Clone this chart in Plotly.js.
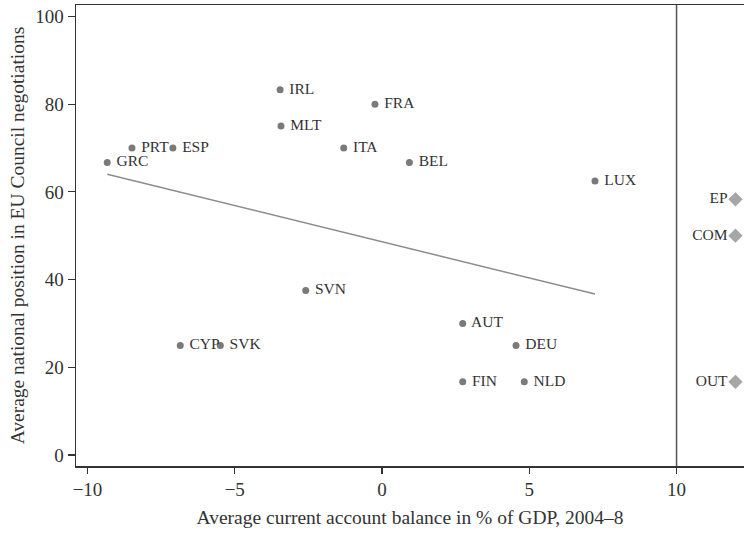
<!DOCTYPE html>
<html>
<head>
<meta charset="utf-8">
<script src="https://cdn.plot.ly/plotly-3.0.1.min.js"></script>
<style>html,body{margin:0;padding:0;background:#fff}#chart{width:744px;height:535px}</style>
</head>
<body>
<div id="chart"></div>
<script>
// Countries: current account balance (% GDP, 2004-8) and average national position
const countries = ["GRC","PRT","ESP","IRL","MLT","ITA","FRA","BEL","LUX","SVN","CYP","SVK","AUT","DEU","FIN","NLD"];
const balance   = [-9.33, -8.49, -7.10, -3.46, -3.43, -1.30, -0.24, 0.93, 7.23, -2.59, -6.85, -5.49, 2.74, 4.55, 2.74, 4.83];
const position  = [66.7, 70, 70, 83.3, 75, 70, 80, 66.7, 62.5, 37.5, 25, 25, 30, 25, 16.7, 16.7];

// EU institutions / outcome shown at the right
const actors      = ["EP","COM","OUT"];
const actorX      = [12, 12, 12];
const actorY      = [58.3, 50, 16.7];

// Fitted line endpoints
const fitX = [-9.33, 7.23];
const fitY = [64.0, 36.7];

const xTicks = [-10, -5, 0, 5, 10];
const xTickText = ["\u221210", "\u22125", "0", "5", "10"];
const yTicks = [0, 20, 40, 60, 80, 100];

const font = "Liberation Serif, Times New Roman, serif";

const traces = [
  {x: fitX, y: fitY, mode: "lines", line: {color: "#8c8c8c", width: 1.5}, hoverinfo: "skip"},
  {x: balance, y: position, mode: "markers+text", text: countries, texttemplate: " %{text}", textposition: "middle right",
   marker: {color: "#7a7a7a", size: 7}, textfont: {family: font, size: 15.5, color: "#333"}, cliponaxis: false},
  {x: actorX, y: actorY, mode: "markers+text", text: actors, textposition: "middle left",
   marker: {color: "#a6a6a6", size: 11, symbol: "diamond"}, textfont: {family: font, size: 15.5, color: "#333"}, cliponaxis: false}
];

const layout = {
  width: 744, height: 535,
  margin: {l: 76, r: 0, t: 5, b: 69},
  showlegend: false,
  paper_bgcolor: "#fff", plot_bgcolor: "#fff",
  font: {family: font, color: "#333", size: 19},
  xaxis: {
    range: [-10.39, 12.29], showgrid: false, zeroline: false,
    tickvals: xTicks, ticktext: xTickText, ticks: "outside", ticklen: 6, tickcolor: "#333", tickwidth: 1.2,
    showline: true, linecolor: "#333", linewidth: 1.5, mirror: true,
    tickfont: {family: font, size: 19, color: "#333"},
    title: {text: "Average current account balance in % of GDP, 2004\u20138", font: {family: font, size: 19.5, color: "#333"}, standoff: 11}
  },
  yaxis: {
    range: [-2.5, 102.6], showgrid: false, zeroline: false,
    tickvals: yTicks, ticks: "outside", ticklen: 7, tickcolor: "#333", tickwidth: 1.2,
    showline: true, linecolor: "#333", linewidth: 1.5,
    tickfont: {family: font, size: 19, color: "#333"},
    title: {text: "Average national position in EU Council negotiations", font: {family: font, size: 19.5, color: "#333"}, standoff: 5}
  },
  shapes: [
    {type: "line", xref: "x", yref: "paper", x0: 10, x1: 10, y0: 0, y1: 1, line: {color: "#555", width: 1.5}}
  ]
};

Plotly.newPlot("chart", traces, layout, {displayModeBar: false, staticPlot: true});
</script>
</body>
</html>
